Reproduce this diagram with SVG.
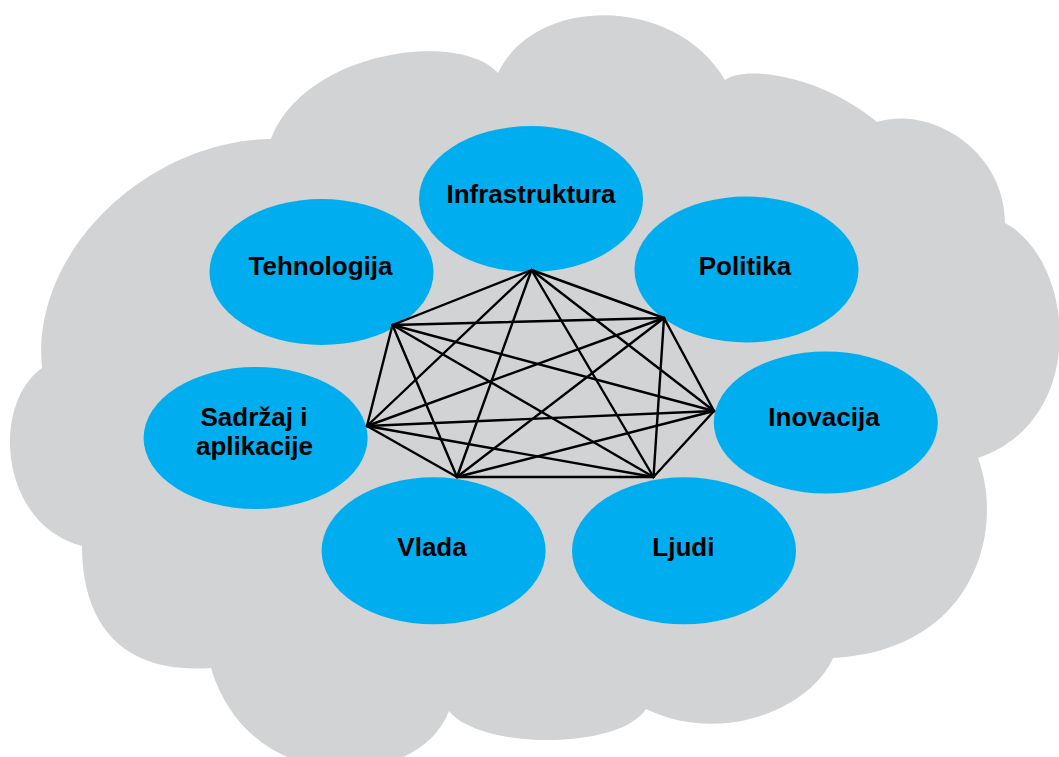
<svg xmlns="http://www.w3.org/2000/svg" width="1059" height="757" viewBox="0 0 1059 757">
<style>
.node{fill:#00AEEF}
.lbl{font-family:"Liberation Sans",Arial,Helvetica,sans-serif;font-weight:bold;font-size:26px;fill:#000;text-anchor:middle}
.edge{stroke:#000;stroke-width:2.4;stroke-linecap:round;fill:none}
</style>
<rect width="1059" height="757" fill="#fff"/>
<path id="cloud" fill="#D1D3D4" d="M498,73 C535,-5 675,-5 725,80 C745,65 820,75 877,122 C930,105 1005,150 1005,223 C1075,260 1090,420 978,458 C1005,530 975,650 833,658 C810,710 720,745 646,709 C620,750 480,750 449,711 C420,790 250,800 211,668 C110,675 82,610 82,546 C0,525 -10,405 42,368 C30,250 150,140 271,139 C305,50 460,30 498,73 Z"/>
<g id="node-infrastruktura"><ellipse class="node" cx="531" cy="199" rx="112" ry="73"/><text class="lbl" x="531" y="203">Infrastruktura</text></g>
<g id="node-tehnologija"><ellipse class="node" cx="321.5" cy="272" rx="112" ry="73"/><text class="lbl" x="320.5" y="275">Tehnologija</text></g>
<g id="node-politika"><ellipse class="node" cx="746.5" cy="269.5" rx="112" ry="73"/><text class="lbl" x="745" y="275">Politika</text></g>
<g id="node-sadrzaj"><ellipse class="node" cx="255.6" cy="438" rx="112" ry="71"/><text class="lbl" x="254" y="426"><tspan x="254" y="426">Sadržaj i</tspan><tspan x="254.5" y="455">aplikacije</tspan></text></g>
<g id="node-inovacija"><ellipse class="node" cx="825.8" cy="422.5" rx="112" ry="71"/><text class="lbl" x="824" y="426">Inovacija</text></g>
<g id="node-vlada"><ellipse class="node" cx="433.6" cy="550.8" rx="112" ry="73.5"/><text class="lbl" x="432" y="556">Vlada</text></g>
<g id="node-ljudi"><ellipse class="node" cx="684" cy="550.8" rx="112" ry="73.5"/><text class="lbl" x="683.4" y="556">Ljudi</text></g>
<g id="connectors">
<line class="edge" x1="531.5" y1="270" x2="392.5" y2="325"/>
<line class="edge" x1="531.5" y1="270" x2="664" y2="318"/>
<line class="edge" x1="531.5" y1="270" x2="714" y2="411"/>
<line class="edge" x1="531.5" y1="270" x2="367" y2="426"/>
<line class="edge" x1="531.5" y1="270" x2="457" y2="477"/>
<line class="edge" x1="531.5" y1="270" x2="653.5" y2="477"/>
<line class="edge" x1="392.5" y1="325" x2="664" y2="318"/>
<line class="edge" x1="392.5" y1="325" x2="714" y2="411"/>
<line class="edge" x1="392.5" y1="325" x2="367" y2="426"/>
<line class="edge" x1="392.5" y1="325" x2="457" y2="477"/>
<line class="edge" x1="392.5" y1="325" x2="653.5" y2="477"/>
<line class="edge" x1="664" y1="318" x2="714" y2="411"/>
<line class="edge" x1="664" y1="318" x2="367" y2="426"/>
<line class="edge" x1="664" y1="318" x2="457" y2="477"/>
<line class="edge" x1="664" y1="318" x2="653.5" y2="477"/>
<line class="edge" x1="714" y1="411" x2="367" y2="426"/>
<line class="edge" x1="714" y1="411" x2="457" y2="477"/>
<line class="edge" x1="714" y1="411" x2="653.5" y2="477"/>
<line class="edge" x1="367" y1="426" x2="457" y2="477"/>
<line class="edge" x1="367" y1="426" x2="653.5" y2="477"/>
<line class="edge" x1="457" y1="477" x2="653.5" y2="477"/>
</g>
</svg>
